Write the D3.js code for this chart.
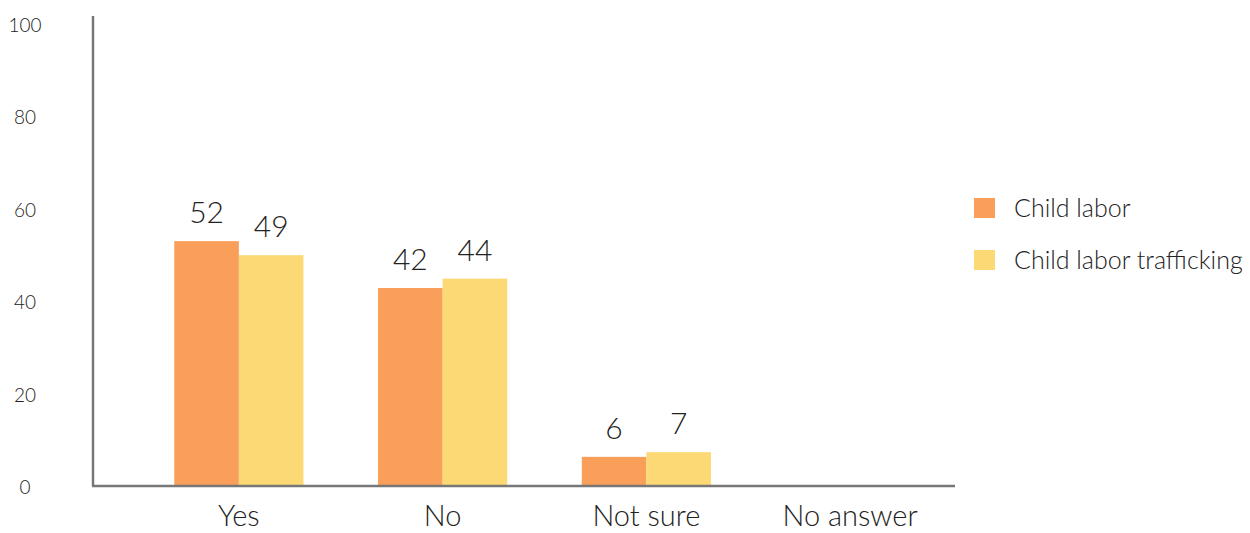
<!DOCTYPE html>
<html>
<head>
<script src="https://d3js.org/d3.v7.min.js"></script>
<style>
  body { margin: 0; background: #fff; font-family: 'Lato', sans-serif; }
  text { font-weight: 300; fill: #222; }
</style>
</head>
<body>
<div id="container"></div>
<script>
const categories = ['Yes', 'No', 'Not sure', 'No answer'];
const seriesNames = ['Child labor', 'Child labor trafficking'];
const childLabor = [52, 42, 6, null];
const childTrafficking = [49, 44, 7, null];
const tickValues = [0, 20, 40, 60, 80, 100];
const colors = ['#F99F5A', '#FCD974'];

const width = 1250, height = 533;

const svg = d3.select('#container').append('svg')
  .attr('width', width)
  .attr('height', height);

const x = d3.scaleBand()
  .domain(categories)
  .range([137, 952])
  .paddingInner(0.366)
  .paddingOuter(0.183);

const xSub = d3.scaleBand()
  .domain(seriesNames)
  .range([0, x.bandwidth()]);

const y = d3.scaleLinear().domain([0, 100]).range([485, 16]);
// tick labels sit slightly off the bar scale in the original
const yLabel = d3.scaleLinear().domain([0, 100]).range([494, 32]);

const rows = categories.map((c, i) => ({
  cat: c,
  values: [
    { name: seriesNames[0], v: childLabor[i], color: colors[0] },
    { name: seriesNames[1], v: childTrafficking[i], color: colors[1] }
  ].filter(d => d.v != null)
}));

const groups = svg.append('g')
  .selectAll('g')
  .data(rows)
  .join('g')
  .attr('transform', d => `translate(${x(d.cat)},0)`);

groups.selectAll('rect')
  .data(d => d.values)
  .join('rect')
  .attr('x', d => xSub(d.name))
  .attr('y', d => y(d.v))
  .attr('width', xSub.bandwidth())
  .attr('height', d => y(0) - y(d.v))
  .attr('fill', d => d.color);

groups.selectAll('text.val')
  .data(d => d.values)
  .join('text')
  .attr('class', 'val')
  .attr('x', d => xSub(d.name) + xSub.bandwidth() / 2)
  .attr('y', d => y(d.v) - 18)
  .attr('text-anchor', 'middle')
  .style('font-size', '30px')
  .text(d => d.v);

// axes
svg.append('line')
  .attr('x1', 93).attr('x2', 93)
  .attr('y1', y(100)).attr('y2', y(0) + 1)
  .attr('stroke', '#777').attr('stroke-width', 2.5);
svg.append('line')
  .attr('x1', 92).attr('x2', 955)
  .attr('y1', y(0) + 1).attr('y2', y(0) + 1)
  .attr('stroke', '#777').attr('stroke-width', 2.5);

svg.append('g')
  .selectAll('text')
  .data(tickValues)
  .join('text')
  .attr('x', 25)
  .attr('y', d => yLabel(d))
  .attr('text-anchor', 'middle')
  .style('font-size', '19px')
  .text(d => d);

svg.append('g')
  .selectAll('text')
  .data(categories)
  .join('text')
  .attr('x', d => x(d) + x.bandwidth() / 2)
  .attr('y', 526)
  .attr('text-anchor', 'middle')
  .style('font-size', '29px')
  .text(d => d);

// legend
const legend = svg.append('g')
  .selectAll('g')
  .data(seriesNames)
  .join('g')
  .attr('transform', (d, i) => `translate(974,${198 + i * 52})`);

legend.append('rect')
  .attr('width', 21).attr('height', 20)
  .attr('fill', (d, i) => colors[i]);

legend.append('text')
  .attr('x', 40)
  .attr('y', 19)
  .style('font-size', '25px')
  .text(d => d);
</script>
</body>
</html>
